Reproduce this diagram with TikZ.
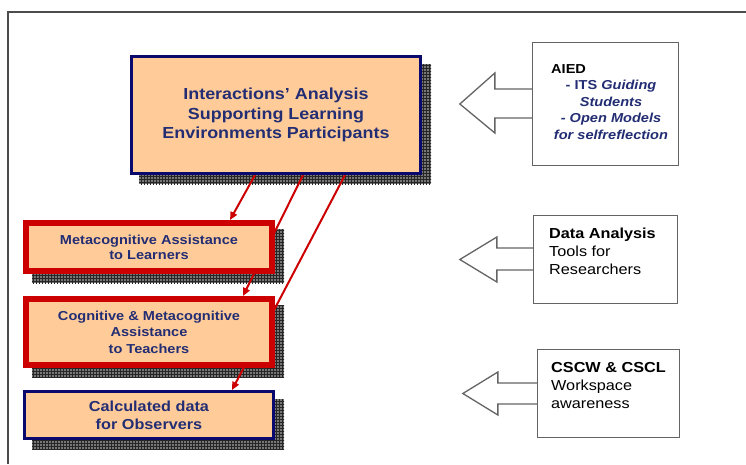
\documentclass[tikz,border=0pt]{standalone}
\usepackage{fontspec}
\newfontfamily\dfont{Liberation Sans}[FakeStretch=1.12]
\usetikzlibrary{arrows.meta,calc,patterns}
\definecolor{peach}{RGB}{255,204,153}
\definecolor{navyb}{RGB}{10,10,110}
\definecolor{navyt}{RGB}{35,45,115}
\definecolor{redb}{RGB}{204,0,0}
\definecolor{shadowc}{RGB}{120,120,120}
\definecolor{greyb}{RGB}{100,100,100}
\pgfdeclarelayer{shadowl}
\pgfdeclarelayer{linel}
\pgfsetlayers{shadowl,linel,main}
\tikzset{
  peachbox/.style={fill=peach, text=navyt, align=center, inner sep=0pt},
  bluebox/.style={peachbox, draw=navyb, line width=3pt},
  redbox/.style={peachbox, draw=redb, line width=6pt},
  sidebox/.style={draw=greyb, fill=white, line width=1.3pt, inner sep=0pt},
  sidearrow/.style={draw=greyb, line width=1.3pt, line join=miter},
  flow/.style={draw=redb, line width=2pt, -{Triangle[length=8pt,width=7pt]}},
  boxshadow/.style={fill=shadowc},
  shadowgrid/.style={pattern=grid, pattern color=black!85},
  sidetext/.style={anchor=north west, align=left, inner sep=0pt, text=black,
    font=\dfont\fontsize{14.5}{18}\selectfont},
}
\begin{document}
\begin{tikzpicture}[x=1pt,y=-1pt]
\useasboundingbox (0,0) rectangle (746,464);
\begin{pgfonlayer}{shadowl}
  \fill[white] (0,0) rectangle (746,464);
\end{pgfonlayer}
\draw[black!70, line width=1.8pt] (746,12) -- (8,12) -- (8,464);

% main boxes
\node[bluebox, minimum width=289pt, minimum height=117pt,
      font=\dfont\bfseries\fontsize{16}{19.5}\selectfont] (ia) at (276,115)
  {Interactions’ Analysis\\Supporting Learning\\Environments Participants};
\node[redbox, minimum width=246pt, minimum height=48pt,
      font=\dfont\bfseries\fontsize{13}{15}\selectfont] (mal) at (149,247)
  {Metacognitive Assistance\\to Learners};
\node[redbox, minimum width=246pt, minimum height=66pt,
      font=\dfont\bfseries\fontsize{13}{16.5}\selectfont] (cma) at (149,332)
  {Cognitive \& Metacognitive\\Assistance\\to Teachers};
\node[bluebox, minimum width=249pt, minimum height=47pt,
      font=\dfont\bfseries\fontsize{14.5}{18}\selectfont] (cdo) at (149,415)
  {Calculated data\\for Observers};

\begin{pgfonlayer}{shadowl}
  \foreach \n in {ia,mal,cma,cdo}{
    \fill[boxshadow] ($(\n.south west)+(9,9)$) rectangle ($(\n.north east)+(9,9)$);
    \fill[shadowgrid] ($(\n.south west)+(9,9)$) rectangle ($(\n.north east)+(9,9)$);
  }
\end{pgfonlayer}

\begin{pgfonlayer}{linel}
  \draw[flow] ([xshift=-21pt]ia.south) -- ([xshift=81pt]mal.north);
  \draw[flow] ([xshift=27pt]ia.south) -- ([xshift=94pt]cma.north);
  \draw[flow] ([xshift=69pt]ia.south) -- ([xshift=83pt]cdo.north);
\end{pgfonlayer}

% side boxes
\node[sidebox, minimum width=146pt, minimum height=123pt] (aied) at (605.5,104) {};
\node[sidebox, minimum width=144pt, minimum height=88pt] (data) at (605.5,259.5) {};
\node[sidebox, minimum width=142pt, minimum height=88pt] (cscw) at (608.5,393.5) {};

\draw[sidearrow] ($(aied.west)+(0.7,-15)$) -- ($(aied.west)+(-37,-15)$)
  -- ($(aied.west)+(-37,-31)$) -- ($(aied.west)+(-72,0)$)
  -- ($(aied.west)+(-37,29)$) -- ($(aied.west)+(-37,14)$)
  -- ($(aied.west)+(0.7,14)$);
\draw[sidearrow] ($(data.west)+(0.7,-11.5)$) -- ($(data.west)+(-36,-11.5)$)
  -- ($(data.west)+(-36,-22.5)$) -- ($(data.west)+(-73,0)$)
  -- ($(data.west)+(-36,22.5)$) -- ($(data.west)+(-36,10.5)$)
  -- ($(data.west)+(0.7,10.5)$);
\draw[sidearrow] ($(cscw.west)+(0.7,-10.5)$) -- ($(cscw.west)+(-39,-10.5)$)
  -- ($(cscw.west)+(-39,-21.5)$) -- ($(cscw.west)+(-74,0)$)
  -- ($(cscw.west)+(-39,21.5)$) -- ($(cscw.west)+(-39,10.5)$)
  -- ($(cscw.west)+(0.7,10.5)$);

% side texts
\node[anchor=base west, inner sep=0pt, font=\dfont\bfseries\fontsize{13}{16}\selectfont]
  (aiedt) at (551,73) {AIED};
\node[anchor=north, align=center, inner sep=0pt, text=navyt,
      font=\dfont\bfseries\fontsize{13}{16.7}\selectfont] (aiedl) at (611,79.7)
  {- ITS \textit{Guiding}\\\textit{Students}\\\textit{- Open Models}\\\textit{for selfreflection}};
\node[sidetext] (datat) at (549,227.6)
  {\textbf{Data Analysis}\\Tools for\\Researchers};
\node[sidetext] (cscwt) at (551,362.6)
  {\textbf{CSCW \& CSCL}\\Workspace\\awareness};
\end{tikzpicture}
\end{document}
